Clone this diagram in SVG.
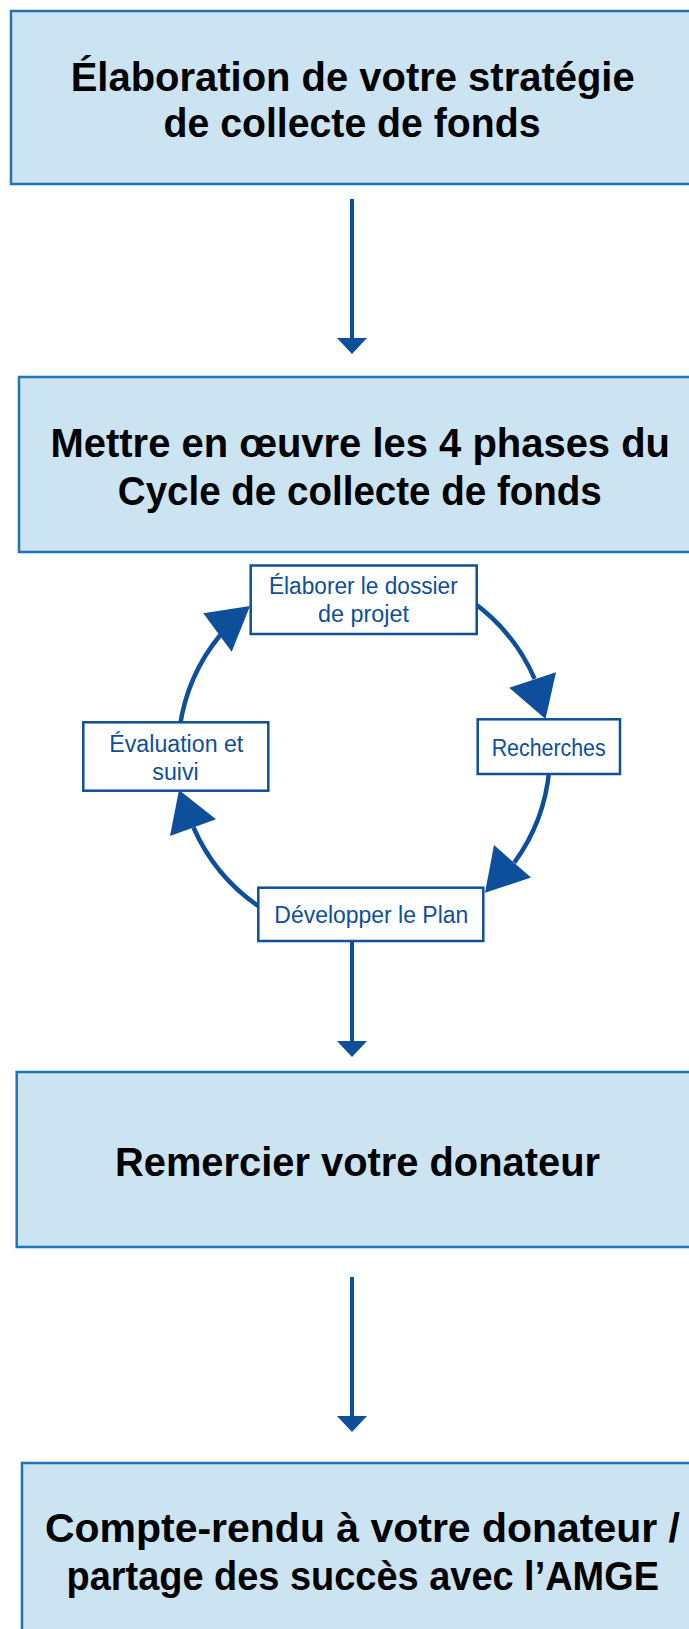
<svg xmlns="http://www.w3.org/2000/svg" width="689" height="1629" viewBox="0 0 689 1629">
  <style>
    .step { fill: #cce3f1; stroke: #1c75bc; stroke-width: 2.5; }
    .step-text { font-family: "Liberation Sans", Arial, sans-serif; font-weight: bold; font-size: 40px; fill: #000; }
    .phase { fill: #fff; stroke: #0d4f9b; stroke-width: 2.5; }
    .phase-text { font-family: "Liberation Sans", Arial, sans-serif; font-size: 23px; fill: #0d4f9b; }
    .flow { stroke: #0d4f9b; stroke-width: 4; fill: none; }
    .cycle { stroke: #0d4f9b; stroke-width: 4.5; fill: none; }
    .head { fill: #0d4f9b; }
  </style>

  <rect width="689" height="1629" fill="#fff"/>

  <!-- connectors -->
  <g id="connectors">
    <!-- main vertical flow -->
    <line class="flow" x1="352" y1="199" x2="352" y2="340"/>
    <polygon class="head" points="337,338 367,338 352,354"/>
    <line class="flow" x1="352" y1="941" x2="352" y2="1043"/>
    <polygon class="head" points="337,1041 367,1041 352,1057"/>
    <line class="flow" x1="352" y1="1277" x2="352" y2="1418"/>
    <polygon class="head" points="337,1416 367,1416 352,1432"/>

    <!-- fundraising cycle (circle centre 364,753, r 186) -->
    <path class="cycle" d="M 470.7 600.6 A 186 186 0 0 1 534.6 678.8"/>
    <polygon class="head" points="509.2,687.8 556,672.2 545.5,719"/>
    <path class="cycle" d="M 549.3 769.2 A 186 186 0 0 1 514.3 862.6"/>
    <polygon class="head" points="494,845.1 531,877.6 485,892.7"/>
    <path class="cycle" d="M 262.7 909 A 186 186 0 0 1 193.5 827.5"/>
    <polygon class="head" points="170,836 216,819.3 179,790"/>
    <path class="cycle" d="M 179.8 727.1 A 186 186 0 0 1 220.3 635"/>
    <polygon class="head" points="203.3,613.3 231.7,651.7 250,606"/>
  </g>

  <!-- main steps -->
  <g id="strategy">
    <rect class="step" x="11" y="11" width="700" height="173"/>
    <text class="step-text" x="70.7" y="90.7" textLength="564" lengthAdjust="spacingAndGlyphs">Élaboration de votre stratégie</text>
    <text class="step-text" x="163.5" y="137" textLength="377" lengthAdjust="spacingAndGlyphs">de collecte de fonds</text>
  </g>

  <g id="phases">
    <rect class="step" x="19" y="377" width="700" height="175"/>
    <text class="step-text" x="50.5" y="457" textLength="619.5" lengthAdjust="spacingAndGlyphs">Mettre en œuvre les 4 phases du</text>
    <text class="step-text" x="117.8" y="504.5" textLength="484" lengthAdjust="spacingAndGlyphs">Cycle de collecte de fonds</text>
  </g>

  <g id="thanks">
    <rect class="step" x="16.7" y="1072" width="700" height="175"/>
    <text class="step-text" x="115" y="1176" textLength="485" lengthAdjust="spacingAndGlyphs">Remercier votre donateur</text>
  </g>

  <g id="report">
    <rect class="step" x="22" y="1463" width="700" height="220"/>
    <text class="step-text" x="45" y="1541.7" textLength="635" lengthAdjust="spacingAndGlyphs">Compte-rendu à votre donateur /</text>
    <text class="step-text" x="66.5" y="1590" textLength="592.5" lengthAdjust="spacingAndGlyphs">partage des succès avec l’AMGE</text>
  </g>

  <!-- cycle phases -->
  <g id="case">
    <rect class="phase" x="250.7" y="565.5" width="226" height="68.5"/>
    <text class="phase-text" x="269" y="593.5" textLength="188.7" lengthAdjust="spacingAndGlyphs">Élaborer le dossier</text>
    <text class="phase-text" x="318" y="621.5" textLength="91" lengthAdjust="spacingAndGlyphs">de projet</text>
  </g>

  <g id="research">
    <rect class="phase" x="477.7" y="719.3" width="142.3" height="54.7"/>
    <text class="phase-text" x="491.7" y="755.7" textLength="114" lengthAdjust="spacingAndGlyphs">Recherches</text>
  </g>

  <g id="plan">
    <rect class="phase" x="258.3" y="887.7" width="225" height="53.3"/>
    <text class="phase-text" x="274.3" y="923.3" textLength="194" lengthAdjust="spacingAndGlyphs">Développer le Plan</text>
  </g>

  <g id="evaluation">
    <rect class="phase" x="83.3" y="722.3" width="185" height="68.4"/>
    <text class="phase-text" x="109.3" y="751.5" textLength="134" lengthAdjust="spacingAndGlyphs">Évaluation et</text>
    <text class="phase-text" x="152.3" y="780" textLength="46.4" lengthAdjust="spacingAndGlyphs">suivi</text>
  </g>
</svg>
